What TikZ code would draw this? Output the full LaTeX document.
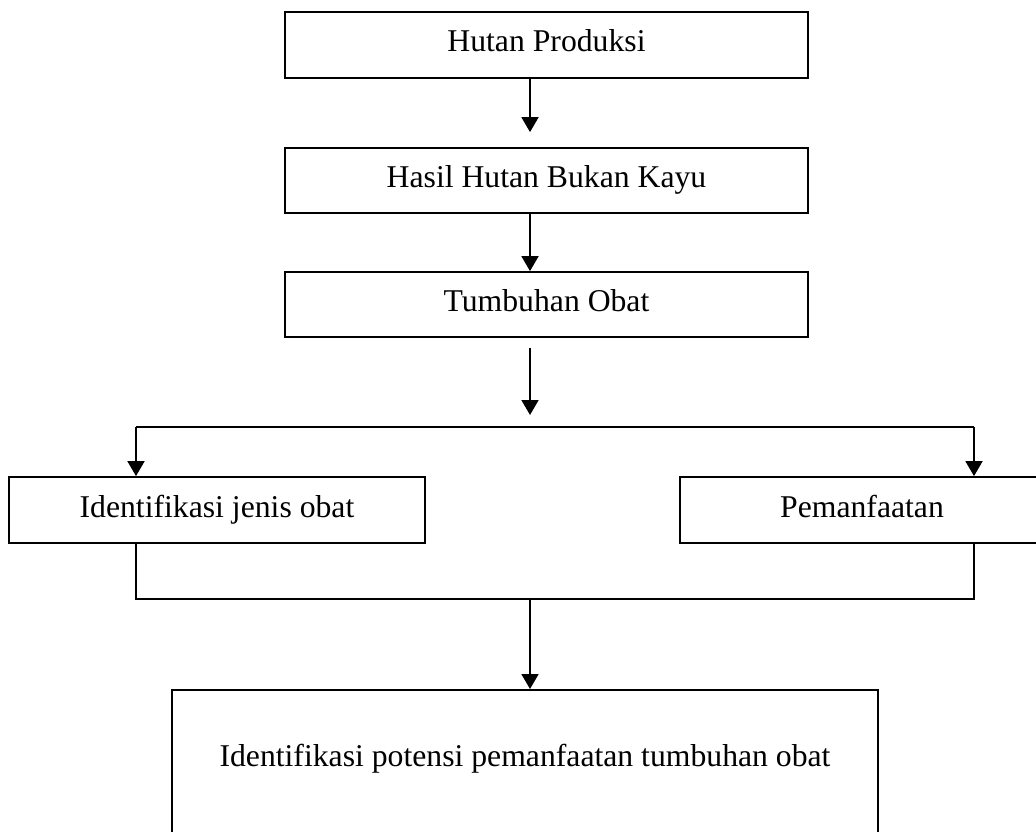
\documentclass[tikz,border=0pt]{standalone}
\usepackage{fontspec}
\setmainfont{Liberation Serif}
\usetikzlibrary{arrows.meta}

\tikzset{
  teks/.style={font=\fontsize{31.7}{38}\selectfont, text height=21pt, text depth=7pt, inner sep=0pt},
  kotak/.style={teks, draw, line width=1.8pt, rectangle, minimum height=65pt},
  panah/.style={draw, line width=1.8pt, -{Triangle[width=17pt,length=15pt]}},
  garis/.style={draw, line width=1.8pt}
}

\begin{document}
\begin{tikzpicture}[x=1pt,y=1pt,yscale=-1,xscale=1]
\useasboundingbox (0,0) rectangle (1036,832);
\clip (0,0) rectangle (1036,832);

% Boxes
\node[kotak, minimum width=523pt, minimum height=66pt] (produksi) at (546.5,45) {Hutan Produksi};
\node[kotak, minimum width=523pt] (hhbk) at (546.5,180.5) {Hasil Hutan Bukan Kayu};
\node[kotak, minimum width=523pt] (obat) at (546.5,304.5) {Tumbuhan Obat};
\node[kotak, minimum width=416pt, minimum height=66pt] (jenis) at (217,510) {Identifikasi jenis obat};
\node[kotak, minimum width=364pt, minimum height=66pt] (manfaat) at (862,510) {Pemanfaatan};
\node[kotak, minimum width=706pt, minimum height=170pt, anchor=north] (potensi) at (525,689) {};
\node[teks] (potensiteks) at ([yshift=70pt]potensi.north) {Identifikasi potensi pemanfaatan tumbuhan obat};

% Helper coordinates
\coordinate (ax) at (530,0);
\coordinate (kiri) at (136,0);
\coordinate (kanan) at (974,0);
\coordinate (cabang) at (530,427);
\coordinate (gabung) at (530,599);

% Connectors
\draw[panah, shorten >=15pt] (produksi.south -| ax) -- (hhbk.north -| ax);
\draw[panah] (hhbk.south -| ax) -- (obat.north -| ax);
\draw[panah, shorten <=10pt, shorten >=12pt] (obat.south -| ax) -- (cabang);
\draw[garis] (cabang -| kiri) -- (cabang -| kanan);
\draw[panah] (cabang -| kiri) -- (jenis.north -| kiri);
\draw[panah] (cabang -| kanan) -- (manfaat.north -| kanan);
\draw[garis] (jenis.south -| kiri) -- (gabung -| kiri) -- (gabung -| kanan) -- (manfaat.south -| kanan);
\draw[panah] (gabung) -- (potensi.north -| gabung);

\end{tikzpicture}
\end{document}
